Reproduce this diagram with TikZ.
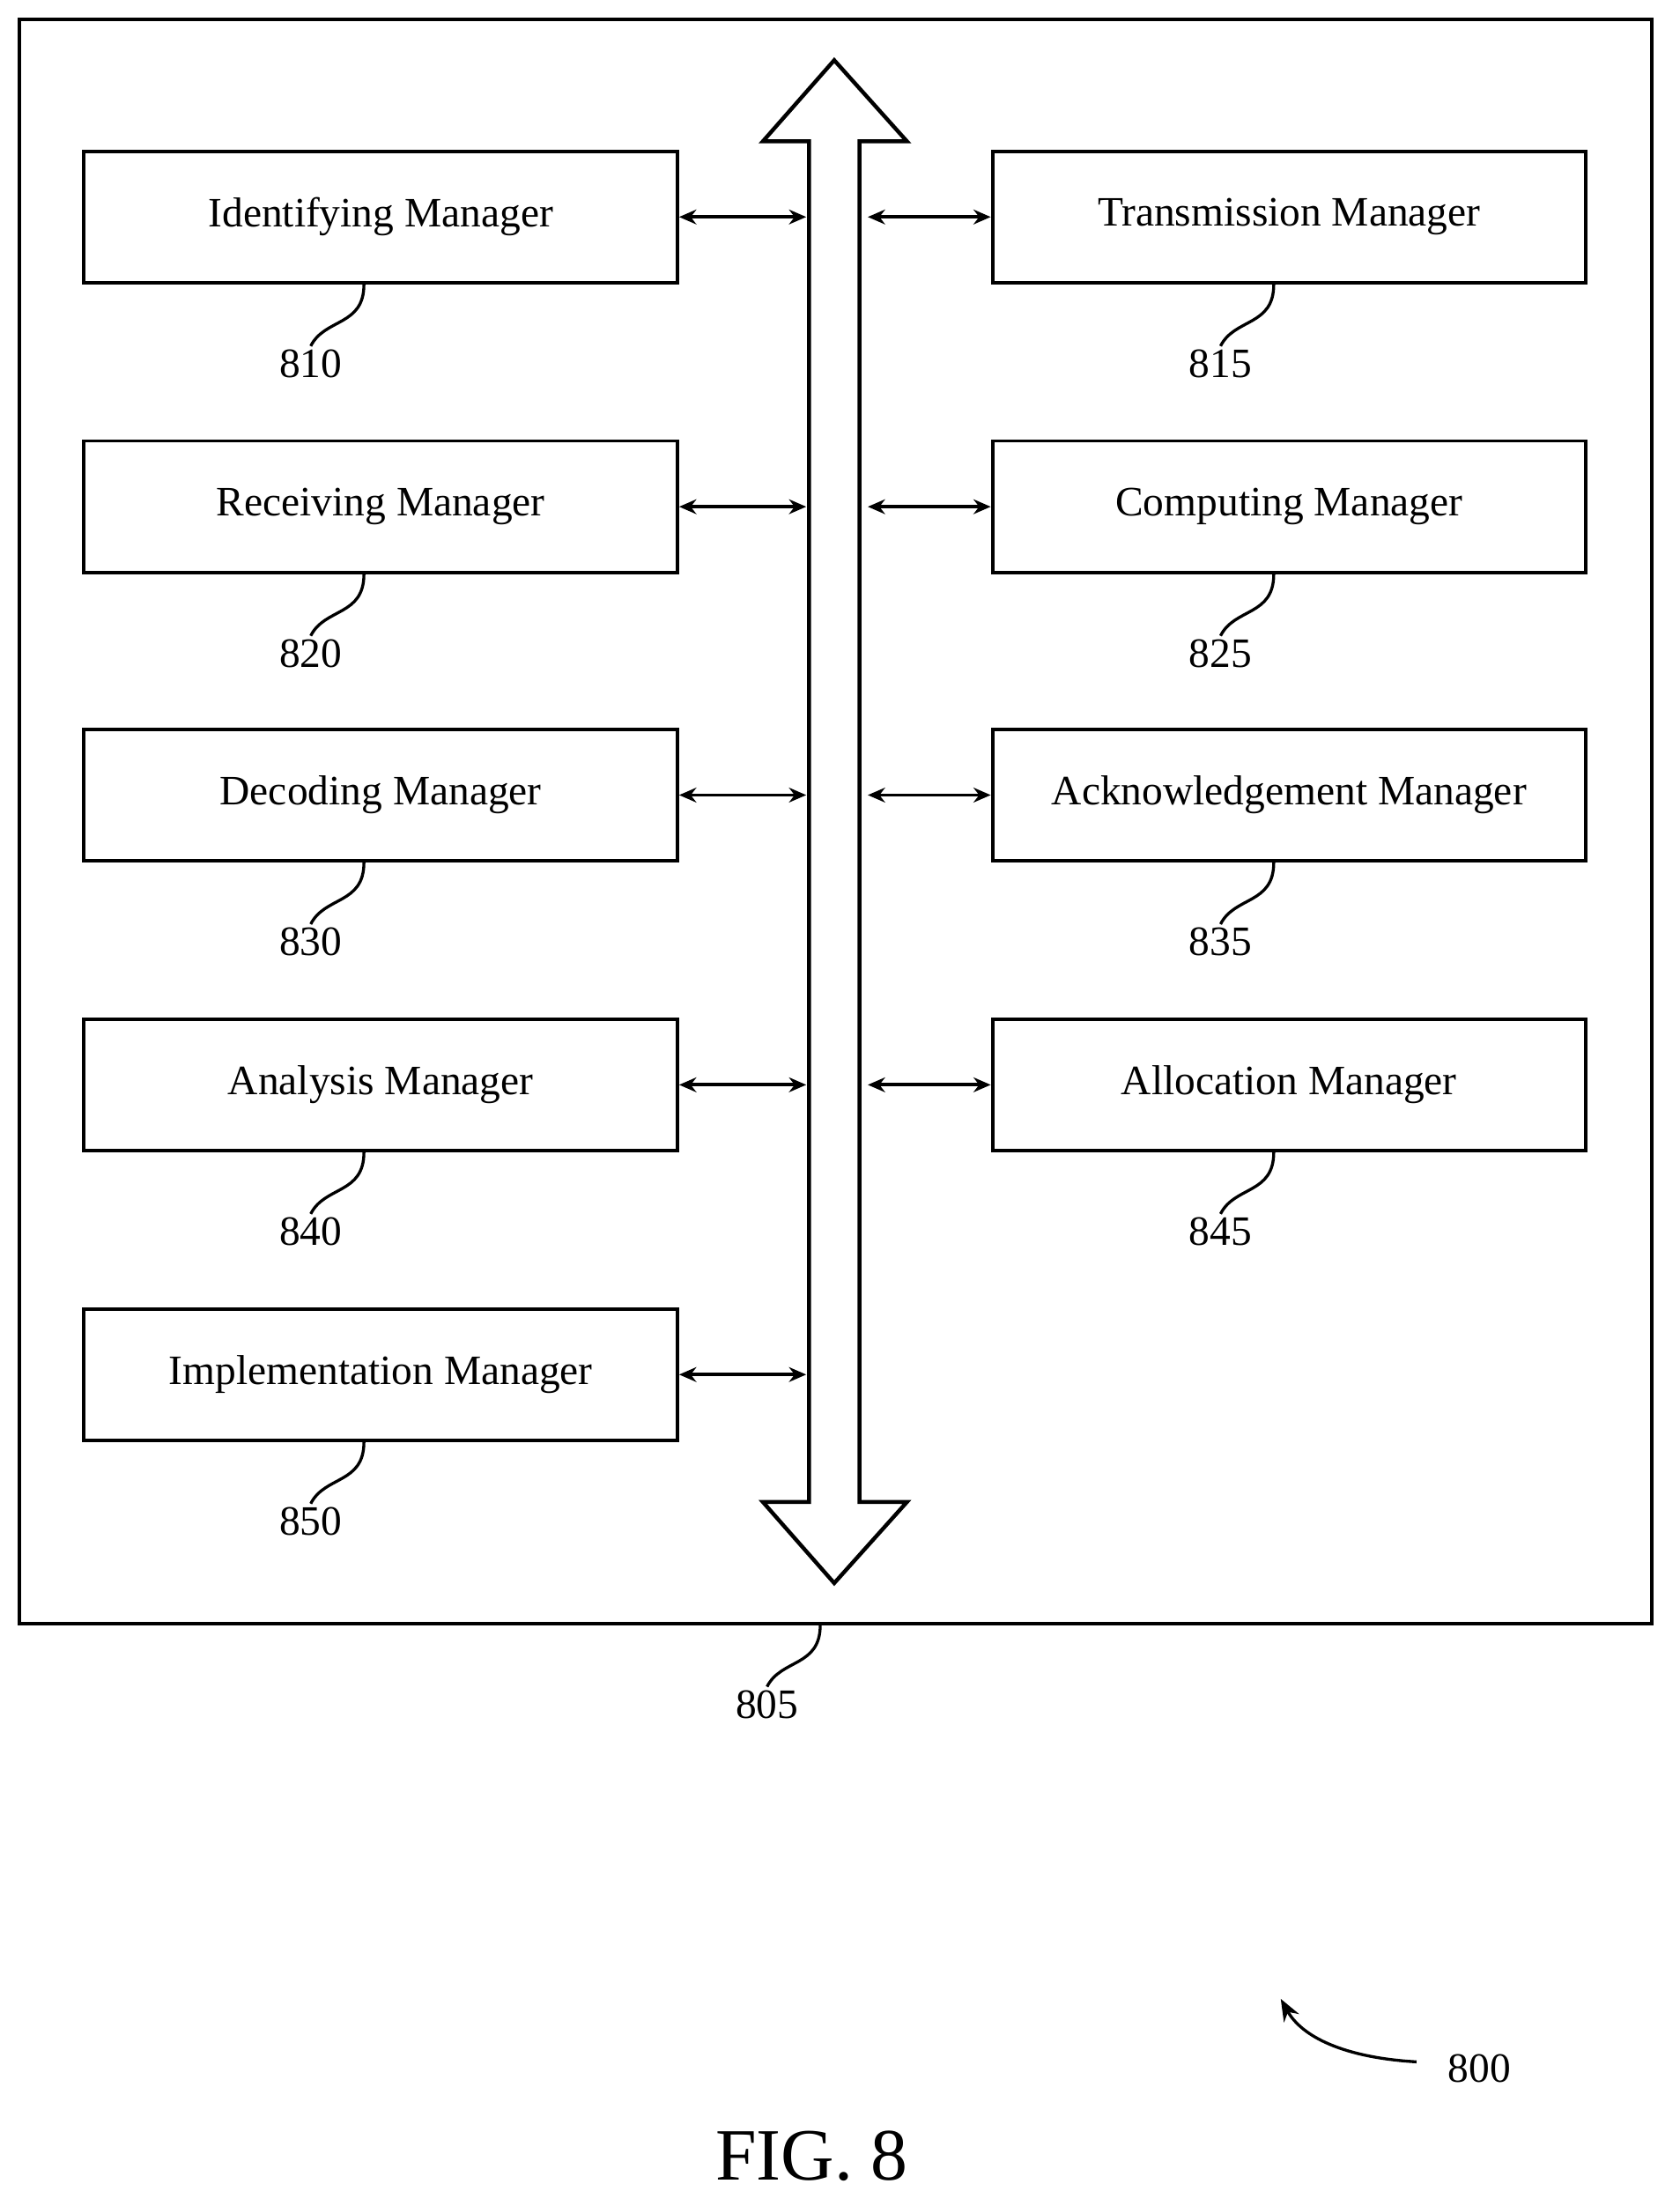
\documentclass[tikz,border=0pt]{standalone}
\usepackage{fontspec}
\setmainfont{Liberation Serif}
\usetikzlibrary{arrows.meta}
\begin{document}
\begin{tikzpicture}[x=0.02cm,y=-0.02cm,
  box/.style={draw,line width=1.4pt,minimum width=8.48cm,minimum height=1.88cm,font=\fontsize{17}{20}\selectfont},
  conn/.style={line width=1.4pt,{Stealth[length=7pt,width=6pt]}-{Stealth[length=7pt,width=6pt]}},
  lead/.style={line width=1.2pt},
  num/.style={font=\fontsize{17}{20}\selectfont}]
\useasboundingbox (0,0) rectangle (1200,1576);
\draw[line width=1.6pt] (14,14) rectangle (1180,1160);
\node[box] (L1) at (272,155) {Identifying Manager};
\node[box] (L2) at (272,362) {Receiving Manager};
\node[box] (L3) at (272,568) {Decoding Manager};
\node[box] (L4) at (272,775) {Analysis Manager};
\node[box] (L5) at (272,982) {Implementation Manager};
\node[box] (R1) at (921,155) {Transmission Manager};
\node[box] (R2) at (921,362) {Computing Manager};
\node[box] (R3) at (921,568) {Acknowledgement Manager};
\node[box] (R4) at (921,775) {Allocation Manager};
\draw[line width=1.6pt,line join=miter] (578,101) -- (545,101) -- (596,43) -- (648,101) -- (614,101) -- (614,1073) -- (648,1073) -- (596,1131) -- (545,1073) -- (578,1073) -- cycle;
\foreach \i/\y in {1/155,2/362,3/568,4/775,5/982}{
  \coordinate (bl\i) at (576,\y);
  \draw[conn] (L\i.east) -- (bl\i);}
\foreach \i/\y in {1/155,2/362,3/568,4/775}{
  \coordinate (br\i) at (620,\y);
  \draw[conn] (br\i) -- (R\i.west);}
\foreach \n/\b/\num in {L1/810,L2/820,L3/830,L4/840,L5/850}{
  \draw[lead] ([xshift=-0.24cm]\n.south) .. controls +(0,30) and +(10,-20) .. ++(-38,44) coordinate (c\b);
  \node[num,below=-2pt] (n\b) at (c\b) {\b};}
\foreach \n/\b in {R1/815,R2/825,R3/835,R4/845}{
  \draw[lead] ([xshift=-0.22cm]\n.south) .. controls +(0,30) and +(10,-20) .. ++(-38,44) coordinate (c\b);
  \node[num,below=-2pt] (n\b) at (c\b) {\b};}
\coordinate (o805) at (586,1161);
\draw[lead] (o805) .. controls +(0,30) and +(10,-20) .. ++(-38,44) coordinate (c805);
\node[num,below=-2pt] (n805) at (c805) {805};
\node[num] (n800) at (1057,1478) {800};
\coordinate (a800) at (915,1428);
\draw[line width=1.2pt,-{Stealth[length=9pt,width=7pt]}] (1012,1473) .. controls (960,1470) and (930,1455) .. (a800);
\node[font=\fontsize{30}{34}\selectfont] (fig) at (580,1540) {FIG. 8};
\end{tikzpicture}
\end{document}
